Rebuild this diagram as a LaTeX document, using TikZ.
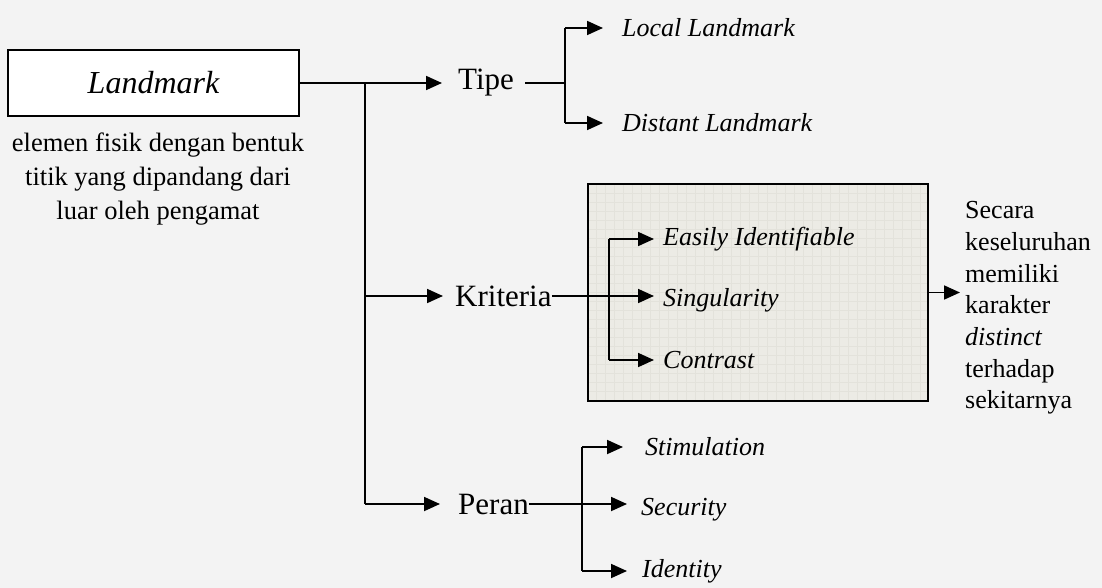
\documentclass[tikz,border=0pt]{standalone}
\usepackage{fontspec}
\setmainfont{Liberation Serif}
\usetikzlibrary{arrows.meta, positioning}
\definecolor{bgpage}{HTML}{F3F3F3}
\definecolor{boxfill}{HTML}{ECEBE5}
\definecolor{gridline}{HTML}{E3E2DB}

\begin{document}
\begin{tikzpicture}[
    x=1pt, y=-1pt,
    line/.style={line width=1.8pt},
    arr/.style={line width=1.8pt, -{Triangle[length=16pt, width=14pt]}},
    mainlabel/.style={font=\fontsize{31}{36}\selectfont, inner sep=0pt, anchor=west},
    itemlabel/.style={font=\fontsize{26}{31}\selectfont\itshape, inner sep=0pt, anchor=west},
    notetext/.style={font=\fontsize{26}{31.7}\selectfont, inner sep=0pt, align=left, anchor=west},
    rootbox/.style={draw, line width=1.8pt, fill=white, minimum width=291pt, minimum height=66pt, font=\fontsize{32}{38}\selectfont\itshape},
    kriteriabox/.style={draw, line width=1.8pt, fill=boxfill, minimum width=340pt, minimum height=217pt,
        path picture={\draw[gridline, line width=0.4pt, step=9pt] (path picture bounding box.south west) grid (path picture bounding box.north east);}},
]
\useasboundingbox[fill=bgpage] (0,0) rectangle (1102,588);

% root
\node[rootbox] (landmark) at (153.5,83) {Landmark};
\node[font=\fontsize{26.5}{34}\selectfont, align=center, inner sep=0pt, anchor=north] (ketLandmark) at (158,133)
    {elemen fisik dengan bentuk\\titik yang dipandang dari\\luar oleh pengamat};

\node[mainlabel] (tipe) at (458,83) {Tipe};
\node[mainlabel] (kriteria) at (455,296) {Kriteria};
\node[mainlabel] (peran) at (458,504) {Peran};

\coordinate (cabang) at (365,83);
\draw[arr] (landmark.east) -- ([xshift=-16pt]tipe.west);
\draw[line] (cabang) -- (cabang |- peran.west);
\draw[arr] (cabang |- kriteria.west) -- ([xshift=-12pt]kriteria.west);
\draw[arr] (cabang |- peran.west) -- ([xshift=-18pt]peran.west);

% tipe
\node[itemlabel] (local) at (622,28) {Local Landmark};
\node[itemlabel] (distant) at (622,123) {Distant Landmark};
\coordinate (tipeFork) at (565,83);
\draw[line] ([xshift=11pt]tipe.east) -- (tipeFork);
\draw[line] (tipeFork |- local.west) -- (tipeFork |- distant.west);
\draw[arr] (tipeFork |- local.west) -- ([xshift=-19pt]local.west);
\draw[arr] (tipeFork |- distant.west) -- ([xshift=-19pt]distant.west);

% kriteria
\node[kriteriabox] (kotak) at (758,292.5) {};
\node[itemlabel] (easily) at (663,239) {Easily Identifiable};
\node[itemlabel] (singularity) at (663,300) {Singularity};
\node[itemlabel] (contrast) at (663,360) {Contrast};
\coordinate (kriteriaFork) at (609,296);
\draw[arr] (kriteria.east) -- ([xshift=-9pt]singularity.west |- kriteria.east);
\draw[line] (kriteriaFork |- easily.west) -- (kriteriaFork |- contrast.west);
\draw[arr] (kriteriaFork |- easily.west) -- ([xshift=-9pt]easily.west);
\draw[arr] (kriteriaFork |- contrast.west) -- ([xshift=-9pt]contrast.west);

\node[notetext] (kesimpulan) at (965,308)
    {Secara\\keseluruhan\\memiliki\\karakter\\\textit{distinct}\\terhadap\\sekitarnya};
\draw[arr] (kotak.east) -- ([xshift=-5pt]kesimpulan.west |- kotak.east);

% peran
\node[itemlabel] (stimulation) at (645,447) {Stimulation};
\node[itemlabel] (security) at (641,510) {Security};
\node[itemlabel] (identity) at (642,571) {Identity};
\coordinate (peranFork) at (582,504);
\draw[arr] (peran.east) -- ([xshift=-14pt]security.west |- peran.east);
\draw[line] (peranFork |- stimulation.west) -- (peranFork |- identity.west);
\draw[arr] (peranFork |- stimulation.west) -- ([xshift=-22pt]stimulation.west);
\draw[arr] (peranFork |- identity.west) -- ([xshift=-15pt]identity.west);
\end{tikzpicture}
\end{document}
